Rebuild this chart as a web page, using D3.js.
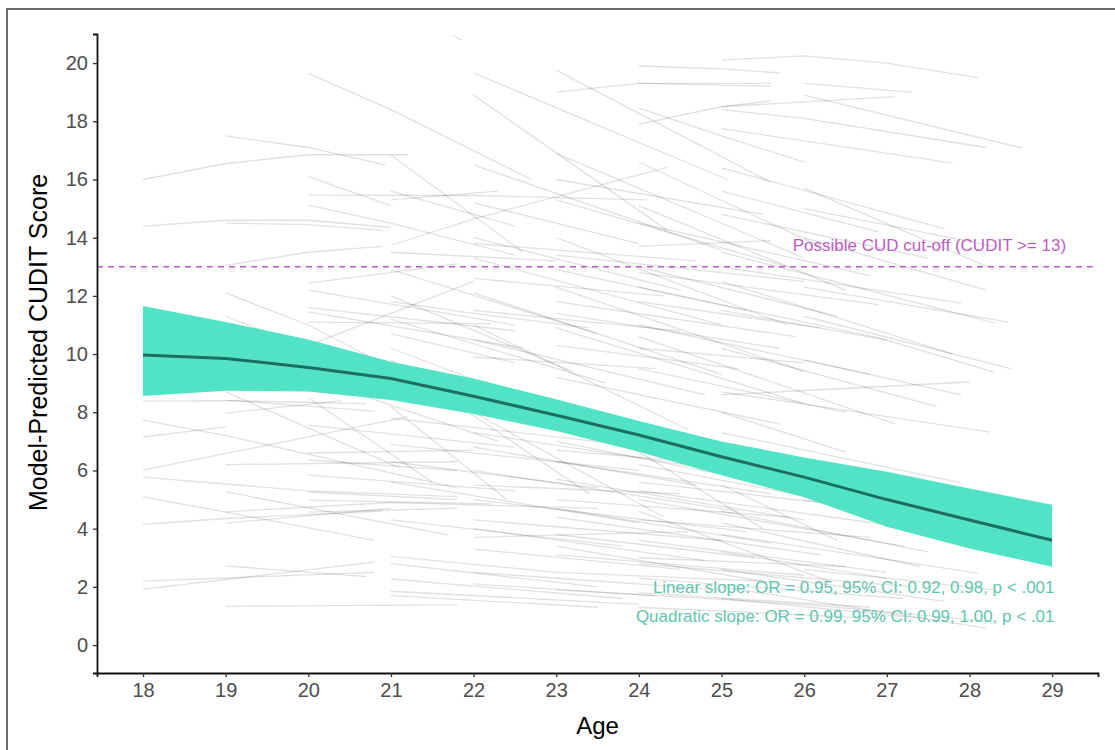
<!DOCTYPE html>
<html>
<head>
<meta charset="utf-8">
<script src="https://cdn.jsdelivr.net/npm/d3@7"></script>
<style>
  body { margin: 0; background: #fff; }
  svg text { font-family: "Liberation Sans", Arial, sans-serif; }
</style>
</head>
<body>
<div id="canvas"></div>
<script>
// DATA
const ageTicks = [18, 19, 20, 21, 22, 23, 24, 25, 26, 27, 28, 29];
const scoreTicks = [0, 2, 4, 6, 8, 10, 12, 14, 16, 18, 20];

// model fit (mean and 95% band) at each age
const fitAge = [18, 19, 20, 21, 22, 23, 24, 25, 26, 27, 28, 29];
const fitMean = [9.97, 9.85, 9.54, 9.16, 8.55, 7.9, 7.22, 6.47, 5.77, 5.0, 4.3, 3.6];
const fitUpper = [11.65, 11.1, 10.5, 9.74, 9.16, 8.45, 7.7, 7.0, 6.45, 5.96, 5.38, 4.82];
const fitLower = [8.56, 8.74, 8.71, 8.42, 7.94, 7.36, 6.64, 5.84, 5.08, 4.07, 3.32, 2.69];

const cutoff = 13;

// individual trajectories, grouped by first age  [age, score]
const traj18 = [
  [[18,16.0],[19,16.55],[20,16.85],[21.2,16.85]],
  [[18,14.4],[19,14.6],[20,14.6],[21.0,14.35]],
  [[18,8.38],[19,8.4],[20.7,8.3]],
  [[18,7.73],[19,7.2],[21.8,5.4]],
  [[18,7.15],[19,7.5]],
  [[18,6.01],[21.2,7.84]],
  [[18,5.77],[20,5.3],[21.8,5.1]],
  [[18,5.09],[19,4.57],[20.8,3.6]],
  [[18,4.15],[19,4.35],[20.9,4.6]],
  [[18,2.2],[20.8,2.5]],
  [[18,1.92],[20.8,2.85]]
];
const traj19 = [
  [[19,17.5],[20,17.1],[20.93,16.5]],
  [[19,14.5],[20,14.45],[20.9,14.25]],
  [[19,13.05],[20,13.5],[20.9,13.7]],
  [[19,12.1],[20,11.0],[21.5,8.8]],
  [[19,11.3],[20,10.2],[21.3,8.6]],
  [[19,8.7],[21.1,6.1]],
  [[19,8.42],[20.8,8.04]],
  [[19,7.97],[20.4,8.4]],
  [[19,6.2],[21.8,6.3]],
  [[19,5.27],[21.7,3.78]],
  [[19,4.58],[21,4.9]],
  [[19,4.19],[21,4.7]],
  [[19,2.72],[20.7,2.35]],
  [[19,1.33],[21.8,1.38]]
];
const traj20 = [
  [[20,19.65],[21,18.4],[22.7,16.0]],
  [[20,16.1],[21,15.1]],
  [[20,15.46],[22,15.45],[24.1,15.3]],
  [[20,15.12],[21,14.5],[22.5,13.4]],
  [[20,12.44],[21.8,13.1]],
  [[20,12.2],[22.5,11.0]],
  [[20,11.6],[22.5,10.8]],
  [[20,11.45],[22.6,10.2]],
  [[20,11.1],[22.2,11.05]],
  [[20,10.3],[22.0,12.5]],
  [[20,9.2],[22.3,7.0]],
  [[20,8.5],[21.5,5.6]],
  [[20,7.56],[22.5,6.8]],
  [[20,6.6],[22,6.7]],
  [[20,6.36],[21.8,6.0]],
  [[20,5.84],[22.5,5.3]],
  [[20,5.26],[21.8,5.0]],
  [[20,4.98],[22.2,4.85]],
  [[20,4.57],[21.8,4.7]]
];
const traj21 = [
  [[21.75,20.95],[21.85,20.8]],
  [[21,16.84],[22.6,13.5]],
  [[21,15.6],[22.5,14.4]],
  [[21,15.3],[22.3,15.6]],
  [[21,13.74],[22,14.65],[24.34,16.42]],
  [[21,13.5],[23,13.2]],
  [[21,12.9],[23.5,10.7]],
  [[21,12.0],[23.2,9.4]],
  [[21,11.8],[22,11.4],[23.4,10.9]],
  [[21,11.2],[23.6,9.0]],
  [[21,10.7],[22.5,9.7]],
  [[21,10.2],[23.8,7.2]],
  [[21,9.8],[23.4,5.2]],
  [[21,8.2],[22.4,5.0]],
  [[21,7.8],[23.8,6.9]],
  [[21,6.9],[24,6.0]],
  [[21,6.3],[23.5,5.4]],
  [[21,5.6],[24,4.2]],
  [[21,4.9],[23.5,4.7]],
  [[21,4.3],[23.8,3.4]],
  [[21,3.05],[23,2.5]],
  [[21,2.8],[23.5,2.0]],
  [[21,2.27],[23.8,1.6]],
  [[21,1.85],[24,1.4]],
  [[21,1.7],[23.5,1.3]]
];
const traj22 = [
  [[22,19.66],[25.07,16.0]],
  [[22,18.9],[24.34,14.26]],
  [[22,16.5],[25,13.57]],
  [[22,15.2],[24,13.8]],
  [[22,14.0],[24.5,12.2]],
  [[22,13.8],[24.7,13.2]],
  [[22,13.3],[25,11.0]],
  [[22,12.6],[24.3,12.0]],
  [[22,12.1],[25,9.3]],
  [[22,11.5],[24.5,10.8]],
  [[22,11.0],[24.6,7.4]],
  [[22,10.5],[24.8,8.6]],
  [[22,9.9],[24.2,9.5]],
  [[22,8.0],[24.3,4.4]],
  [[22,7.3],[25,6.0]],
  [[22,6.8],[24.7,5.5]],
  [[22,6.0],[25.2,4.6]],
  [[22,5.5],[24.5,5.2]],
  [[22,5.0],[25.3,3.9]],
  [[22,4.3],[25,3.6]],
  [[22,4.0],[24.8,2.9]],
  [[22,3.7],[24.6,3.9]],
  [[22,3.3],[24.5,2.6]],
  [[22,2.5],[25,1.9]],
  [[22,2.1],[24.2,1.7]]
];
const traj23 = [
  [[23,19.76],[25.6,15.9]],
  [[23,19.0],[24,19.3],[25.6,19.3]],
  [[23,16.9],[26,13.3]],
  [[23,16.0],[25.5,14.8]],
  [[23,15.3],[25.8,13.0]],
  [[23,14.0],[25.8,11.0]],
  [[23,13.4],[26,12.5]],
  [[23,12.9],[25.3,11.5]],
  [[23,12.3],[26,9.4]],
  [[23,11.8],[25.9,10.6]],
  [[23,11.4],[25.7,10.2]],
  [[23,10.9],[26,8.3]],
  [[23,10.3],[25.2,9.5]],
  [[23,9.2],[25.7,7.6]],
  [[23,8.4],[25.5,4.0]],
  [[23,7.0],[26,5.3]],
  [[23,6.7],[25.9,6.0]],
  [[23,6.3],[25.6,5.2]],
  [[23,5.7],[26,4.3]],
  [[23,5.0],[25.8,4.4]],
  [[23,4.7],[25.6,3.5]],
  [[23,4.4],[26.2,3.1]],
  [[23,3.8],[25.4,3.0]],
  [[23,3.4],[26.1,1.9]],
  [[23,3.1],[26,2.4]],
  [[23,2.5],[25.5,2.2]],
  [[23,1.9],[26,1.4]]
];
const traj24 = [
  [[24,19.9],[25,19.8],[25.7,19.66]],
  [[24,19.3],[25.6,19.2]],
  [[24,17.9],[25,18.5],[25.6,18.7]],
  [[24,18.45],[25,17.5],[26,16.6]],
  [[24,16.6],[26.2,13.7]],
  [[24,15.1],[26.5,12.2]],
  [[24,14.5],[26.8,12.7]],
  [[24,13.7],[25.6,13.9]],
  [[24,13.0],[26.4,11.3]],
  [[24,12.8],[26.9,11.7]],
  [[24,12.3],[27,10.5]],
  [[24,11.8],[26.2,10.9]],
  [[24,11.0],[26.8,9.3]],
  [[24,10.6],[27.1,7.6]],
  [[24,10.2],[26,9.7]],
  [[24,9.5],[26.5,8.0]],
  [[24,7.6],[26.8,5.2]],
  [[24,6.2],[27,4.6]],
  [[24,5.6],[26.5,4.8]],
  [[24,5.3],[27.1,4.1]],
  [[24,5.0],[27.2,3.4]],
  [[24,4.6],[26.3,2.2]],
  [[24,4.3],[26.8,3.7]],
  [[24,3.6],[27,2.5]],
  [[24,3.0],[26.5,2.7]],
  [[24,2.8],[27.3,2.0]],
  [[24,2.3],[27.2,1.6]],
  [[24,1.8],[26.8,1.3]],
  [[24,1.3],[27,0.9]]
];
const traj25 = [
  [[25,20.1],[26,20.25],[27,20.0],[28.1,19.5]],
  [[25,18.5],[27.1,18.85]],
  [[25,18.4],[26,18.1],[28.2,17.1]],
  [[25,17.75],[27.8,16.56]],
  [[25,16.4],[27.7,14.3]],
  [[25,15.6],[26.9,14.2]],
  [[25,14.8],[27.5,13.3]],
  [[25,13.5],[28.3,11.07]],
  [[25,13.0],[27.9,11.75]],
  [[25,12.5],[27.8,10.0]],
  [[25,11.5],[27,10.48],[28.3,9.38]],
  [[25,10.2],[27.6,8.2]],
  [[25,8.6],[28,9.04]],
  [[25,8.7],[28.25,7.32]],
  [[25,8.0],[26.5,6.63]],
  [[25,7.3],[27.9,5.57]],
  [[25,6.2],[27.9,4.7]],
  [[25,5.5],[26.4,3.6]],
  [[25,4.6],[27.5,3.2]],
  [[25,4.2],[27.4,2.7]],
  [[25,3.8],[28.1,2.47]],
  [[25,3.2],[27,2.3]],
  [[25,2.6],[27.7,1.5]],
  [[25,2.0],[28.2,0.58]],
  [[25,1.6],[27.5,0.9]]
];
const traj26 = [
  [[26,18.9],[28.64,17.08]],
  [[26,19.3],[27.3,19.0]],
  [[26,15.7],[28.3,12.9]],
  [[26,15.0],[28.3,13.7]],
  [[26,14.0],[28.2,12.2]],
  [[26,12.3],[28.47,11.1]],
  [[26,11.3],[28.5,9.5]],
  [[26,9.8],[27.9,8.6]],
  [[26,6.0],[28.1,4.3]],
  [[26,5.0],[28.2,3.9]],
  [[26,2.6],[28.3,1.9]],
  [[26,1.4],[28.3,0.8]]
];

const cutoffLabel = "Possible CUD cut-off (CUDIT >= 13)";
const slopeLabels = [
  "Linear slope: OR = 0.95, 95% CI: 0.92, 0.98, p < .001",
  "Quadratic slope: OR = 0.99, 95% CI: 0.99, 1.00, p < .01"
];

// DIMENSIONS
const width = 1115;
const height = 750;
const margin = { top: 34, right: 17, bottom: 77, left: 97 };
const plot_width = width - margin.left - margin.right;
const plot_height = height - margin.top - margin.bottom;

// CANVAS AND PLOT
const canvas = d3.select("#canvas")
  .append("svg")
  .attr("width", width)
  .attr("height", height);

canvas.append("rect")
  .attr("x", 7).attr("y", 9)
  .attr("width", width + 20).attr("height", height + 20)
  .attr("fill", "#fff")
  .attr("stroke", "#3a3a3a")
  .attr("stroke-width", 1.5);

const plot = canvas.append("g")
  .attr("transform", `translate(${margin.left},${margin.top})`);

// SCALES
const scaleX = d3.scaleLinear().domain([17.443, 29.556]).range([0, plot_width]);
const scaleY = d3.scaleLinear().domain([-0.96, 21.0]).range([plot_height, 0]);

// TRAJECTORIES
const allTraj = [].concat(traj18, traj19, traj20, traj21, traj22, traj23, traj24, traj25, traj26);
const line = d3.line().x(d => scaleX(d[0])).y(d => scaleY(d[1]));

plot.append("g")
  .selectAll("path")
  .data(allTraj)
  .join("path")
  .attr("d", line)
  .attr("fill", "none")
  .attr("stroke", "#000")
  .attr("stroke-opacity", 0.12)
  .attr("stroke-width", 1.3);

// RIBBON + FIT
const fit = fitAge.map((a, i) => ({ age: a, mean: fitMean[i], lo: fitLower[i], hi: fitUpper[i] }));

plot.append("path")
  .datum(fit)
  .attr("fill", "#52e3c6")
  .attr("d", d3.area().x(d => scaleX(d.age)).y0(d => scaleY(d.lo)).y1(d => scaleY(d.hi)));

plot.append("path")
  .datum(fit)
  .attr("fill", "none")
  .attr("stroke", "#1c6e60")
  .attr("stroke-width", 3)
  .attr("d", d3.line().x(d => scaleX(d.age)).y(d => scaleY(d.mean)));

// CUT-OFF
plot.append("line")
  .attr("x1", 0).attr("x2", plot_width)
  .attr("y1", scaleY(cutoff)).attr("y2", scaleY(cutoff))
  .attr("stroke", "#c05cc4")
  .attr("stroke-width", 1.4)
  .attr("stroke-dasharray", "6,5");

plot.append("text")
  .attr("x", scaleX(29.17)).attr("y", scaleY(cutoff) - 16)
  .attr("text-anchor", "end")
  .attr("fill", "#c05cc4")
  .style("font-size", "17px")
  .text(cutoffLabel);

plot.selectAll(".slope")
  .data(slopeLabels)
  .join("text")
  .attr("class", "slope")
  .attr("x", scaleX(29.03))
  .attr("y", (d, i) => scaleY(1.8) + i * 29)
  .attr("text-anchor", "end")
  .attr("fill", "#5fc5b0")
  .style("font-size", "17px")
  .text(d => d);

// AXES
const xAx = d3.axisBottom(scaleX).tickValues(ageTicks).tickSizeOuter(0).tickSize(4).tickPadding(6);
const yAx = d3.axisLeft(scaleY).tickValues(scoreTicks).tickSizeOuter(0).tickSize(4).tickPadding(5);

const xaxis = plot.append("g")
  .attr("transform", `translate(0, ${plot_height})`)
  .call(xAx);
const yaxis = plot.append("g").call(yAx);

[xaxis, yaxis].forEach(ax => {
  ax.select(".domain").attr("stroke", "#111").attr("stroke-width", 1.8);
  ax.selectAll(".tick line").attr("stroke", "#333").attr("stroke-width", 1.3);
  ax.selectAll(".tick text")
    .attr("fill", "#4d4d4d")
    .style("font-size", "20px")
    .style("font-family", "Liberation Sans, Arial, sans-serif");
});

// LABELS
plot.append("text")
  .attr("x", plot_width / 2)
  .attr("y", plot_height + 61)
  .attr("text-anchor", "middle")
  .attr("fill", "#000")
  .style("font-size", "24px")
  .text("Age");

plot.append("text")
  .attr("transform", `translate(${-50}, ${scaleY(10.4)}) rotate(-90)`)
  .attr("text-anchor", "middle")
  .attr("fill", "#000")
  .style("font-size", "25px")
  .text("Model-Predicted CUDIT Score");
</script>
</body>
</html>
